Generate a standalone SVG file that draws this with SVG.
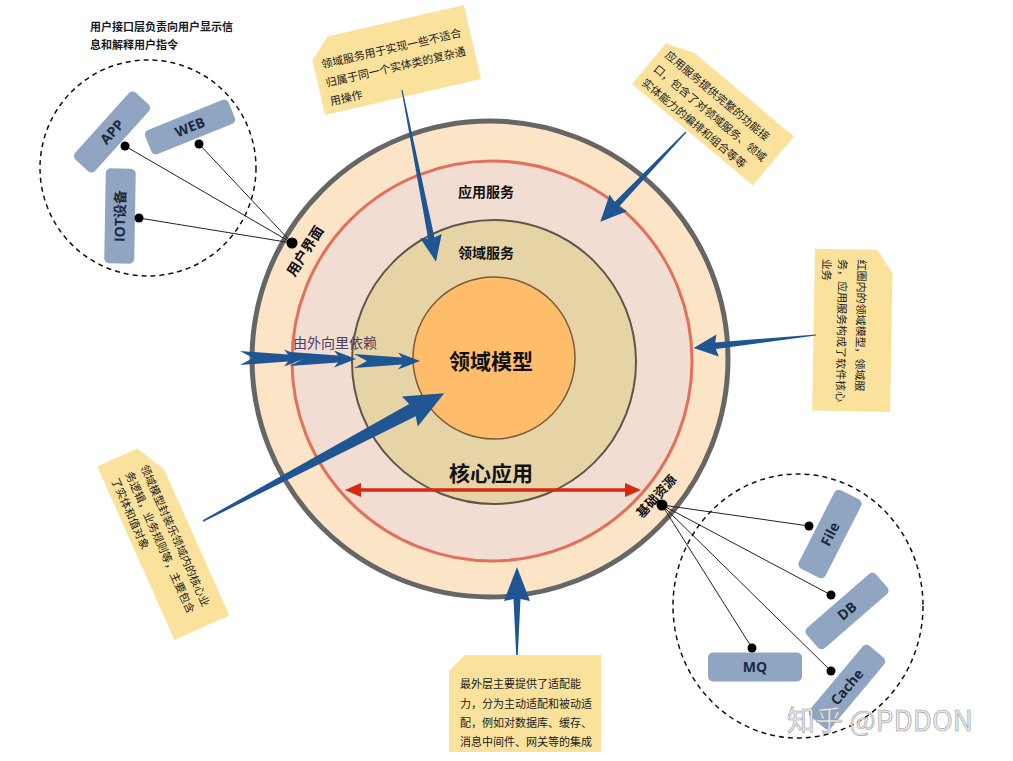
<svg xmlns="http://www.w3.org/2000/svg" width="1013" height="761" viewBox="0 0 1013 761">
<style>
.note{fill:#FBE29C;}
.nt{font-family:'Noto Sans CJK SC','Noto Sans',sans-serif;font-size:11px;fill:#1a1a1a;}
.box{fill:#8FA5C2;}
.bt{font-family:'Open Sans','Noto Sans CJK SC',sans-serif;font-weight:bold;font-size:14px;fill:#1B2A3E;text-anchor:middle;}
.dash{fill:none;stroke:#111;stroke-width:1.5;stroke-dasharray:5 4;}
.link{stroke:#222;stroke-width:1;fill:none;}
.dot{fill:#000;}
.arr{fill:#1F5592;}
.lbl{font-family:'Noto Sans CJK SC','Noto Sans',sans-serif;fill:#111;text-anchor:middle;}
</style>
<defs>
<path id="chev" d="M0,-7 L48,-3.5 L44,-8.5 L66,0 L44,8.5 L48,3.5 L0,7 L13,0 Z"/>
</defs>
<rect width="1013" height="761" fill="#fff"/>

<g id="layers">
<circle id="layer-infra" cx="490" cy="359" r="238" fill="#FCE4C6" stroke="#666" stroke-width="5"/>
<circle id="layer-app" cx="492" cy="361" r="200" fill="#F2DDD3" stroke="#E2705A" stroke-width="3"/>
<circle id="layer-domain-service" cx="494" cy="362" r="142" fill="#E6D4A6" stroke="#5F5548" stroke-width="2"/>
<circle id="layer-domain-model" cx="494" cy="358" r="81" fill="#FFBD6B" stroke="#7A5A3A" stroke-width="1.5"/>
</g>

<g id="note-top-left">
<text class="nt" x="90" y="31" font-weight="bold" font-size="11.3">用户接口层负责向用户显示信</text>
<text class="nt" x="90" y="49" font-weight="bold" font-size="11.3">息和解释用户指令</text>
</g>

<g id="note-domain-service" transform="translate(308,41) rotate(-13)">
<path class="note" d="M20,0 H160 V76 H0 V20 Z"/>
<text class="nt" x="8" y="30">领域服务用于实现一些不适合</text>
<text class="nt" x="8" y="49">归属于同一个实体类的复杂通</text>
<text class="nt" x="8" y="68">用操作</text>
</g>

<g id="note-app-service" transform="translate(673,35) rotate(40)">
<path class="note" d="M28,0 H158 V64 H0 V11 Z"/>
<text class="nt" x="7" y="22">应用服务提供完整的功能接</text>
<text class="nt" x="7" y="40">口，包含了对领域服务、领域</text>
<text class="nt" x="7" y="58">实体能力的编排和组合等等</text>
</g>

<g id="note-core" transform="translate(893,250) rotate(91)">
<path class="note" d="M23,0 H162 V78 H0 V16 Z"/>
<text class="nt" x="10" y="35">红圈内的领域模型，领域服</text>
<text class="nt" x="10" y="54">务，应用服务构成了软件核心</text>
<text class="nt" x="10" y="70">业务</text>
</g>

<g id="note-domain-model" transform="translate(152,442) rotate(66)">
<path class="note" d="M30,0 H190 V60 H0 V16 Z"/>
<text class="nt" x="18" y="21" font-size="10.8">领域模型封装乐领域内的核心业</text>
<text class="nt" x="18" y="37.5" font-size="10.8">务逻辑，业务规则等，主要包含</text>
<text class="nt" x="18" y="53" font-size="10.8">了实体和值对象</text>
</g>

<g id="note-infra">
<path class="note" d="M465,655 H601 V752 H449 V671 Z"/>
<text class="nt" x="460" y="688" font-size="11.5">最外层主要提供了适配能</text>
<text class="nt" x="460" y="707.5" font-size="11.5">力，分为主动适配和被动适</text>
<text class="nt" x="460" y="727" font-size="11.5">配，例如对数据库、缓存、</text>
<text class="nt" x="460" y="746" font-size="11.5">消息中间件、网关等的集成</text>
</g>

<g id="group-ui">
<circle class="dash" cx="148" cy="168" r="108"/>
</g>
<g id="group-infra">
<ellipse class="dash" cx="798" cy="606" rx="125" ry="132"/>
</g>

<g id="box-app" transform="translate(112,132) rotate(-48)">
<rect class="box" x="-45" y="-13.5" width="90" height="27" rx="5"/>
<text class="bt" y="5">APP</text>
</g>
<g id="box-web" transform="translate(190,127) rotate(-22)">
<rect class="box" x="-45" y="-13" width="90" height="26" rx="5"/>
<text class="bt" y="5">WEB</text>
</g>
<g id="box-iot" transform="translate(120,216) rotate(1)">
<rect class="box" x="-15" y="-47.5" width="30" height="95" rx="5"/>
<text class="bt" transform="rotate(-90)" y="5">IOT设备</text>
</g>
<g id="box-file" transform="translate(830,534) rotate(-63)">
<rect class="box" x="-44" y="-15" width="88" height="30" rx="5"/>
<text class="bt" y="5">File</text>
</g>
<g id="box-db" transform="translate(847,611) rotate(-41)">
<rect class="box" x="-46" y="-13.5" width="92" height="27" rx="5"/>
<text class="bt" y="5">DB</text>
</g>
<g id="box-mq" transform="translate(755,667)">
<rect class="box" x="-47" y="-14.5" width="94" height="29" rx="5"/>
<text class="bt" y="5">MQ</text>
</g>
<g id="box-cache" transform="translate(847,687) rotate(-50)">
<rect class="box" x="-46" y="-14" width="92" height="28" rx="5"/>
<text class="bt" y="5">Cache</text>
</g>

<g id="labels">
<text class="lbl" x="486" y="197" font-size="14" font-weight="bold">应用服务</text>
<text class="lbl" x="486" y="258" font-size="14" font-weight="bold">领域服务</text>
<text class="lbl" x="491" y="369" font-size="21" font-weight="bold">领域模型</text>
<text class="lbl" x="491" y="481" font-size="21" font-weight="bold">核心应用</text>
<text class="lbl" x="293" y="348" font-size="14" style="text-anchor:start;fill:#4B3D63">由外向里依赖</text>
<text class="lbl" transform="translate(305,251) rotate(-58)" y="5" font-size="14" font-weight="bold">用户界面</text>
<text class="lbl" transform="translate(656,496) rotate(-48)" y="5" font-size="13" font-weight="bold">基础资源</text>
</g>

<g id="connectors">
<line class="link" x1="292" y1="243" x2="125" y2="146"/>
<line class="link" x1="292" y1="243" x2="199" y2="144"/>
<line class="link" x1="292" y1="243" x2="139" y2="218"/>
<line class="link" x1="662" y1="505" x2="809" y2="526"/>
<line class="link" x1="662" y1="505" x2="831" y2="595"/>
<line class="link" x1="662" y1="505" x2="752" y2="648"/>
<line class="link" x1="662" y1="505" x2="831" y2="671"/>
<circle class="dot" cx="292" cy="243" r="5.5"/>
<circle class="dot" cx="125" cy="146" r="4.5"/>
<circle class="dot" cx="199" cy="144" r="4.5"/>
<circle class="dot" cx="139" cy="218" r="4.5"/>
<circle class="dot" cx="662" cy="505" r="5.5"/>
<circle class="dot" cx="809" cy="526" r="4.5"/>
<circle class="dot" cx="831" cy="595" r="4.5"/>
<circle class="dot" cx="752" cy="648" r="4.5"/>
<circle class="dot" cx="831" cy="671" r="4.5"/>

<path class="arr" transform="translate(402,90) rotate(78.8)" d="M0,-0.6 L151,-3.2 L149,-11 L175,0 L149,11 L151,3.2 L0,0.6 Z"/>
<path class="arr" transform="translate(686,132) rotate(133.7)" d="M0,-0.6 L100,-3.2 L98,-12 L124,0 L98,12 L100,3.2 L0,0.6 Z"/>
<path class="arr" transform="translate(816,335) rotate(173.9)" d="M0,-0.6 L101,-3.2 L99,-11 L123,0 L99,11 L101,3.2 L0,0.6 Z"/>
<path class="arr" transform="translate(517,655) rotate(-90)" d="M0,-0.8 L56,-3.5 L54,-13 L88,0 L54,13 L56,3.5 L0,0.8 Z"/>
<path class="arr" transform="translate(203,521) rotate(-27.9)" d="M0,-0.8 L237,-7 L234,-17 L273,0 L234,17 L237,7 L0,0.8 Z"/>

<use href="#chev" class="arr" transform="translate(240,358)"/>
<use href="#chev" class="arr" transform="translate(290,359)"/>
<use href="#chev" class="arr" transform="translate(354,361)"/>

<line x1="357" y1="490" x2="629" y2="490" stroke="#D42A12" stroke-width="3.5"/>
<path d="M345,490 L361,483 L361,497 Z" fill="#D42A12"/>
<path d="M641,490 L625,483 L625,497 Z" fill="#D42A12"/>
</g>

<text x="787" y="731" font-family="'Noto Sans CJK SC','Noto Sans',sans-serif" font-size="28" fill="#ececec" stroke="#9a9a9a" stroke-width="0.6">知乎 @PDDON</text>
</svg>
